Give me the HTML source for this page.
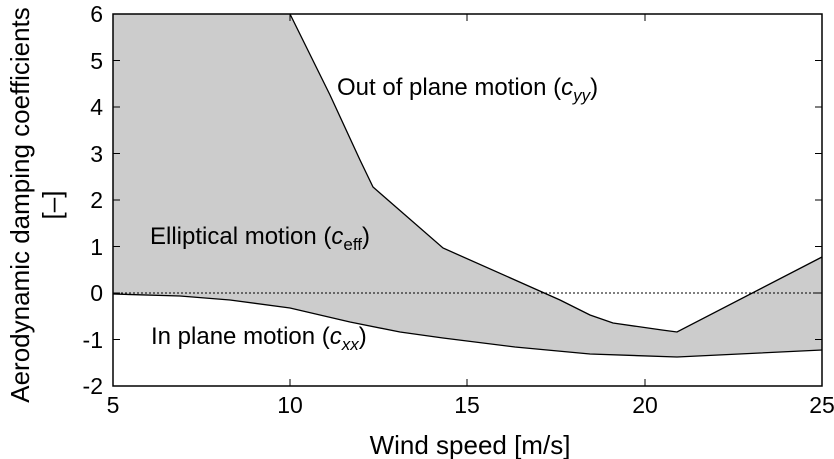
<!DOCTYPE html>
<html><head><style>body{margin:0;background:#fff}svg{display:block}text{font-family:"Liberation Sans",Arial,sans-serif;fill:#000}</style></head><body>
<svg width="834" height="459" viewBox="0 0 834 459">
<polygon points="113,14 290,14 330,95 360,160 373,187 443,248 515,280 560,300 590,315 613,323 662,330 677,332 822,257 822,350 760,353 677,357 590,354 515,347 443,338 400,332 350,322 290,308 230,300 180,296 113,294" fill="#cccccc"/>
<polyline points="290,14 330,95 360,160 373,187 443,248 515,280 560,300 590,315 613,323 662,330 677,332 822,257" fill="none" stroke="#000" stroke-width="1.3"/>
<polyline points="113,294 180,296 230,300 290,308 350,322 400,332 443,338 515,347 590,354 677,357 760,353 822,350" fill="none" stroke="#000" stroke-width="1.3"/>
<line x1="113" y1="293" x2="822" y2="293" stroke="#000" stroke-width="1" stroke-dasharray="2,2"/>
<rect x="113" y="14" width="709" height="372" fill="none" stroke="#000" stroke-width="1.5"/>
<g stroke="#000" stroke-width="1">
<line x1="113" y1="60.5" x2="120" y2="60.5"/><line x1="113" y1="107" x2="120" y2="107"/><line x1="113" y1="153.5" x2="120" y2="153.5"/><line x1="113" y1="200" x2="120" y2="200"/><line x1="113" y1="246.5" x2="120" y2="246.5"/><line x1="113" y1="293" x2="120" y2="293"/><line x1="113" y1="339.5" x2="120" y2="339.5"/>
<line x1="822" y1="60.5" x2="815" y2="60.5"/><line x1="822" y1="107" x2="815" y2="107"/><line x1="822" y1="153.5" x2="815" y2="153.5"/><line x1="822" y1="200" x2="815" y2="200"/><line x1="822" y1="246.5" x2="815" y2="246.5"/><line x1="822" y1="293" x2="815" y2="293"/><line x1="822" y1="339.5" x2="815" y2="339.5"/>
<line x1="290" y1="386" x2="290" y2="379"/><line x1="467" y1="386" x2="467" y2="379"/><line x1="645" y1="386" x2="645" y2="379"/>
<line x1="290" y1="14" x2="290" y2="21"/><line x1="467" y1="14" x2="467" y2="21"/><line x1="645" y1="14" x2="645" y2="21"/>
</g>
<g font-size="23" text-anchor="end">
<text x="103" y="22">6</text><text x="103" y="69">5</text><text x="103" y="115">4</text><text x="103" y="162">3</text><text x="103" y="208">2</text><text x="103" y="255">1</text><text x="103" y="301">0</text><text x="103" y="348">-1</text><text x="103" y="394">-2</text>
</g>
<g font-size="23" text-anchor="middle">
<text x="113" y="413">5</text><text x="290" y="413">10</text><text x="467" y="413">15</text><text x="645" y="413">20</text><text x="822" y="413">25</text>
</g>
<g font-size="26" text-anchor="middle">
<text x="470" y="454">Wind speed [m/s]</text>
<text transform="translate(29,205) rotate(-90)">Aerodynamic damping coefficients</text>
<text transform="translate(61,205) rotate(-90)">[–]</text>
</g>
<g font-size="24">
<text x="337" y="95">Out of plane motion (<tspan font-style="italic">c</tspan><tspan font-style="italic" font-size="17" dy="6">yy</tspan><tspan dy="-6">)</tspan></text>
<text x="150" y="244">Elliptical motion (<tspan font-style="italic">c</tspan><tspan font-size="17" dy="6">eff</tspan><tspan dy="-6">)</tspan></text>
<text x="151" y="344">In plane motion (<tspan font-style="italic">c</tspan><tspan font-style="italic" font-size="17" dy="6">xx</tspan><tspan dy="-6">)</tspan></text>
</g>
</svg>
</body></html>
